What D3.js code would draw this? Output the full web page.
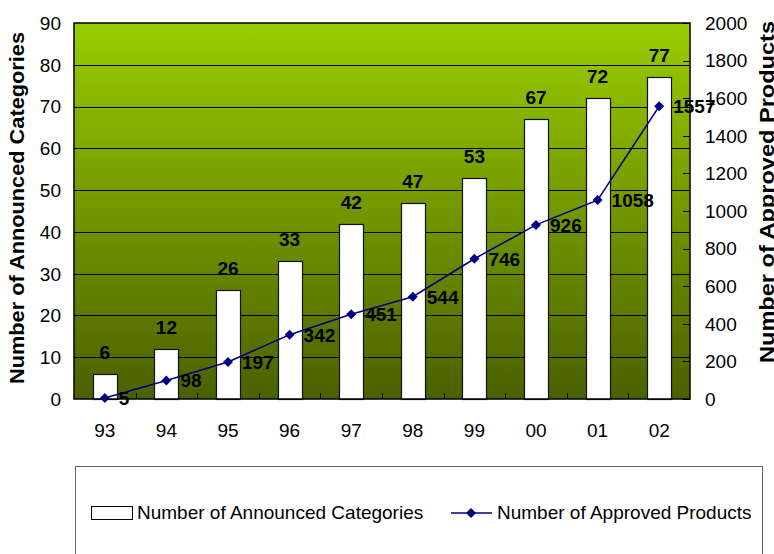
<!DOCTYPE html>
<html><head><meta charset="utf-8">
<script src="https://cdn.jsdelivr.net/npm/d3@7"></script>
<style>body{margin:0;background:#fff;}svg{display:block;font-family:"Liberation Sans",Arial,sans-serif;}</style>
</head><body>
<svg id="c" width="774" height="554"></svg>
<script>
const years = ["93","94","95","96","97","98","99","00","01","02"];
const categories = [6,12,26,33,42,47,53,67,72,77];
const products = [5,98,197,342,451,544,746,926,1058,1557];
const leftTicks = [0,10,20,30,40,50,60,70,80,90];
const rightTicks = [0,200,400,600,800,1000,1200,1400,1600,1800,2000];
const seriesNames = ["Number of Announced Categories","Number of Approved Products"];

const svg = d3.select("#c");
const X0=74, X1=690, Y0=23, Y1=399;
const x = d3.scaleBand().domain(years).range([X0,X1]).paddingInner(0.61).paddingOuter(0.305);
const yL = d3.scaleLinear().domain([0,90]).range([Y1,Y0]);
const yR = d3.scaleLinear().domain([0,2000]).range([Y1,Y0]);

const defs = svg.append("defs");
const g = defs.append("linearGradient").attr("id","bg").attr("x1",0).attr("y1",0).attr("x2",0).attr("y2",1);
g.append("stop").attr("offset","0%").attr("stop-color","#9acd00");
g.append("stop").attr("offset","100%").attr("stop-color","#4b6000");

svg.append("rect").attr("x",X0).attr("y",Y0).attr("width",X1-X0).attr("height",Y1-Y0).attr("fill","url(#bg)");

// gridlines
svg.append("g").selectAll("line").data(leftTicks.slice(1,-1)).join("line")
  .attr("x1",X0).attr("x2",X1).attr("y1",d=>Math.round(yL(d))+0.5).attr("y2",d=>Math.round(yL(d))+0.5)
  .attr("stroke","#000").attr("stroke-width",1);

// right axis inner ticks
svg.append("g").selectAll("line").data(rightTicks).join("line")
  .attr("x1",X1-7).attr("x2",X1).attr("y1",d=>Math.round(yR(d))+0.5).attr("y2",d=>Math.round(yR(d))+0.5)
  .attr("stroke","#000");
// x ticks between categories
const step = x.step();
svg.append("g").selectAll("line").data(years.slice(1)).join("line")
  .attr("x1",d=>Math.round(x(d)-x.paddingInner()*step/2)+0.5).attr("x2",d=>Math.round(x(d)-x.paddingInner()*step/2)+0.5)
  .attr("y1",Y1-6).attr("y2",Y1).attr("stroke","#000");

// bars
svg.append("g").selectAll("rect").data(categories).join("rect")
  .attr("x",(d,i)=>Math.round(x(years[i]))+0.5).attr("y",d=>Math.round(yL(d))+0.5)
  .attr("width",Math.round(x.bandwidth())).attr("height",d=>Y1-Math.round(yL(d)))
  .attr("fill","#fff").attr("stroke","#111").attr("stroke-width",1.2);

// border
svg.append("rect").attr("x",X0).attr("y",Y0).attr("width",X1-X0).attr("height",Y1-Y0)
  .attr("fill","none").attr("stroke","#000").attr("stroke-width",1.5);

// line
const cx = (i)=>x(years[i])+x.bandwidth()/2;
svg.append("path").datum(products).attr("fill","none").attr("stroke","#000080").attr("stroke-width",1.5)
  .attr("d",d3.line().x((d,i)=>cx(i)).y(d=>yR(d)));
const diamond = d3.symbol().type(d3.symbolSquare).size(50);
svg.append("g").selectAll("path").data(products).join("path")
  .attr("d",diamond()).attr("fill","#000080")
  .attr("transform",(d,i)=>`translate(${cx(i)},${yR(d)}) rotate(45)`);

// bar labels
svg.append("g").selectAll("text").data(categories).join("text")
  .attr("x",(d,i)=>cx(i)).attr("y",d=>yL(d)-15).attr("text-anchor","middle")
  .attr("font-size",19).attr("font-weight","bold").text(d=>d);
// line labels
svg.append("g").selectAll("text").data(products).join("text")
  .attr("x",(d,i)=>cx(i)+14).attr("y",d=>yR(d)).attr("dy","0.36em")
  .attr("font-size",19).attr("font-weight","bold").text(d=>d);

// axis labels
svg.append("g").selectAll("text").data(leftTicks).join("text")
  .attr("x",61).attr("y",d=>yL(d)).attr("dy","0.36em").attr("text-anchor","end")
  .attr("font-size",19).text(d=>d);
svg.append("g").selectAll("text").data(rightTicks).join("text")
  .attr("x",705).attr("y",d=>yR(d)).attr("dy","0.36em")
  .attr("font-size",19).text(d=>d);
svg.append("g").selectAll("text").data(years).join("text")
  .attr("x",(d,i)=>cx(i)).attr("y",430).attr("dy","0.36em").attr("text-anchor","middle")
  .attr("font-size",19).text(d=>d);

// titles
svg.append("text").attr("transform","translate(24,208) rotate(-90)").attr("text-anchor","middle")
  .attr("font-size",20).attr("font-weight","bold")
  .attr("textLength",352).attr("lengthAdjust","spacingAndGlyphs").text(seriesNames[0]);
svg.append("text").attr("transform","translate(774,192) rotate(-90)").attr("text-anchor","middle")
  .attr("font-size",20).attr("font-weight","bold")
  .attr("textLength",342).attr("lengthAdjust","spacingAndGlyphs").text(seriesNames[1]);

// legend
svg.append("rect").attr("x",75.5).attr("y",466.5).attr("width",687).attr("height",120)
  .attr("fill","#fff").attr("stroke","#666").attr("stroke-width",1);
svg.append("rect").attr("x",91.5).attr("y",506.5).attr("width",41).attr("height",13)
  .attr("fill","#fff").attr("stroke","#000").attr("stroke-width",1);
svg.append("text").attr("x",137).attr("y",512).attr("dy","0.36em").attr("font-size",19).text(seriesNames[0]);
svg.append("line").attr("x1",451).attr("x2",492).attr("y1",513).attr("y2",513).attr("stroke","#000080").attr("stroke-width",1.5);
svg.append("path").attr("d",diamond()).attr("fill","#000080").attr("transform","translate(471,513) rotate(45)");
svg.append("text").attr("x",497).attr("y",512).attr("dy","0.36em").attr("font-size",19).text(seriesNames[1]);
</script>
</body></html>
